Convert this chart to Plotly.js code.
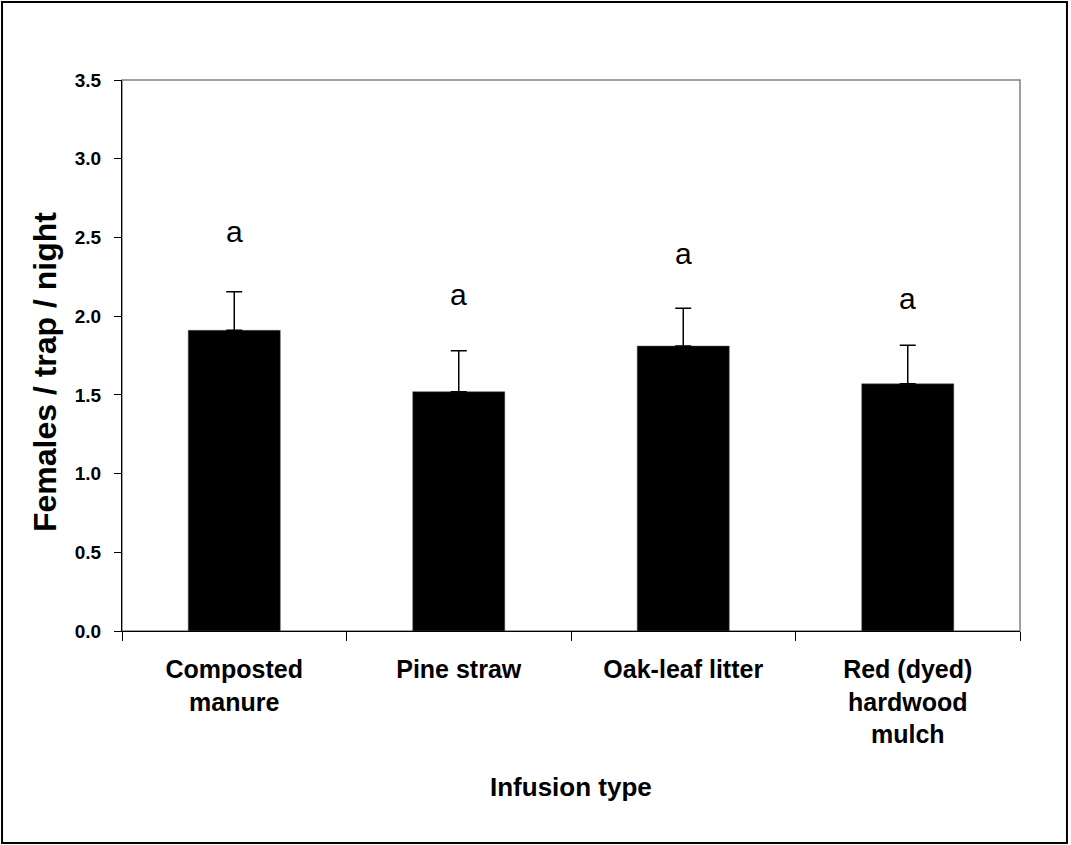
<!DOCTYPE html>
<html>
<head>
<meta charset="utf-8">
<script src="https://cdn.plot.ly/plotly-3.0.1.min.js"></script>
<style>
  html, body { margin: 0; padding: 0; background: #fff; }
  #chart { width: 1071px; height: 845px; }
</style>
</head>
<body>
<div id="chart"></div>
<script>
// ---- data ----
const categories = ["Composted<br>manure", "Pine straw", "Oak-leaf litter", "Red (dyed)<br>hardwood<br>mulch"];
const means = [1.91, 1.52, 1.81, 1.57];
const sems = [0.245, 0.26, 0.24, 0.245];
const letters = ["a", "a", "a", "a"];
const letterY = [2.54, 2.14, 2.40, 2.11];
const yTickVals = [0, 0.5, 1.0, 1.5, 2.0, 2.5, 3.0, 3.5];
const yTickText = ["0.0", "0.5", "1.0", "1.5", "2.0", "2.5", "3.0", "3.5"];
const xTitle = "Infusion type";
const yTitle = "Females / trap / night";

const FONT = "Liberation Sans, Arial, sans-serif";

const trace = {
  type: "bar",
  x: categories,
  y: means,
  width: 0.41,
  marker: { color: "#000000", line: { color: "#555555", width: 0.5 } },
  error_y: {
    type: "data",
    array: sems,
    arrayminus: sems.map(() => 0),
    symmetric: false,
    color: "#000000",
    thickness: 1.5,
    width: 8
  },
  hoverinfo: "skip"
};

const annotations = categories.map((c, i) => ({
  x: c, y: letterY[i], xref: "x", yref: "y",
  text: letters[i], showarrow: false,
  font: { family: FONT, size: 30, color: "#000" },
  yanchor: "middle"
}));

annotations.push({
  xref: "paper", yref: "paper", x: 0.5, y: -0.283,
  xanchor: "center", yanchor: "middle", showarrow: false,
  text: "<b>" + xTitle + "</b>",
  font: { family: FONT, size: 26, color: "#000" }
});
annotations.push({
  xref: "paper", yref: "paper", x: -0.0857, y: 0.47,
  xanchor: "center", yanchor: "middle", showarrow: false,
  textangle: -90,
  text: "<b>" + yTitle + "</b>",
  font: { family: FONT, size: 32, color: "#000" }
});

const layout = {
  width: 1071, height: 845,
  margin: { l: 122, r: 51, t: 80, b: 214 },
  paper_bgcolor: "#ffffff",
  plot_bgcolor: "#ffffff",
  showlegend: false,
  xaxis: {
    type: "category",
    range: [-0.5, 3.5],
    tickson: "boundaries",
    ticks: "outside", ticklen: 9, tickcolor: "#000", tickwidth: 1,
    showline: true, linecolor: "#000", linewidth: 1,
    showgrid: false, zeroline: false,
    tickfont: { family: FONT, size: 25, color: "#000", weight: "bold" },
    ticklabelstandoff: 16,
    automargin: false,
    fixedrange: true
  },
  yaxis: {
    range: [0, 3.5],
    tickvals: yTickVals, ticktext: yTickText,
    ticks: "outside", ticklen: 7, tickcolor: "#000", tickwidth: 1,
    showline: true, linecolor: "#000", linewidth: 1,
    showgrid: false, zeroline: false,
    tickfont: { family: FONT, size: 19, color: "#000", weight: "bold" },
    ticklabelstandoff: 9,
    automargin: false,
    fixedrange: true
  },
  annotations: annotations,
  shapes: [
    { type: "rect", xref: "paper", yref: "paper", x0: 0, x1: 1, y0: 0, y1: 1,
      line: { color: "#808080", width: 1.5 }, fillcolor: "rgba(0,0,0,0)", layer: "below" },
    { type: "rect", xref: "paper", yref: "paper",
      x0: -0.1336, x1: 1.0523, y0: -0.3848, y1: 1.1416,
      line: { color: "#000000", width: 2 }, fillcolor: "rgba(0,0,0,0)" }
  ]
};

Plotly.newPlot("chart", [trace], layout, { staticPlot: true, displayModeBar: false });
</script>
</body>
</html>
